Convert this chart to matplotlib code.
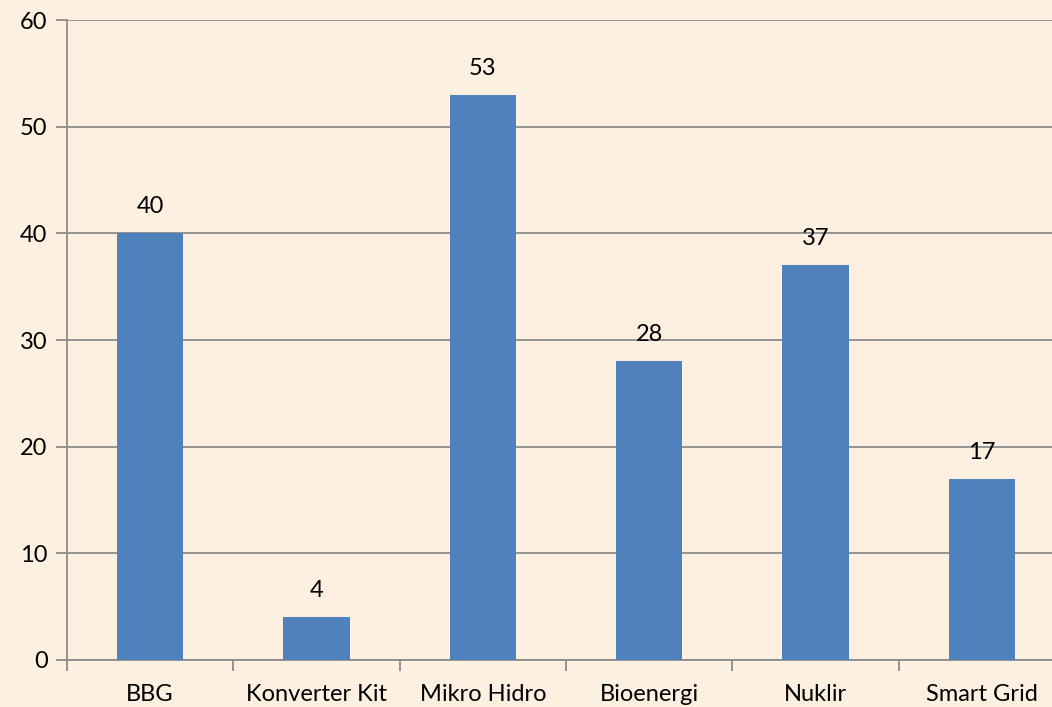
import matplotlib.pyplot as plt
import numpy as np

plt.rcParams['font.family'] = ['Lato', 'DejaVu Sans']

kategori = ['BBG', 'Konverter Kit', 'Mikro Hidro', 'Bioenergi', 'Nuklir', 'Smart Grid']
nilai = [40, 4, 53, 28, 37, 17]

bg = '#FEF0E0'
abu = '#8C8C8C'

fig = plt.figure(figsize=(10.52, 7.07), dpi=100, facecolor=bg)
ax = fig.add_axes([67/1052, 47/707, 998/1052, 640/707])
ax.set_facecolor(bg)

x = np.arange(len(kategori))
ax.bar(x, nilai, width=0.4, color='#4F81BD', zorder=3)
for xi, v in zip(x, nilai):
    ax.text(xi, v + 1.5, str(v), ha='center', va='bottom', fontsize=17, color='black')

ax.set_xlim(-0.5, len(kategori) - 0.5)
ax.set_ylim(0, 60)
ax.set_yticks(range(0, 61, 10))
ax.yaxis.grid(True, color=abu, linewidth=1.3, zorder=0)
ax.set_xticks(x)
ax.set_xticklabels(kategori, fontsize=17)
ax.set_xticks(np.arange(-0.5, len(kategori)), minor=True)
ax.tick_params(axis='x', which='major', length=0, pad=17)
ax.tick_params(axis='x', which='minor', length=8, width=1.3, color=abu)
ax.tick_params(axis='y', length=8, width=1.3, color=abu, labelsize=17, pad=6)

for s in ['top', 'right']:
    ax.spines[s].set_visible(False)
for s in ['left', 'bottom']:
    ax.spines[s].set_color(abu)
    ax.spines[s].set_linewidth(1.3)

fig.savefig('out.png', dpi=100, facecolor=bg)
